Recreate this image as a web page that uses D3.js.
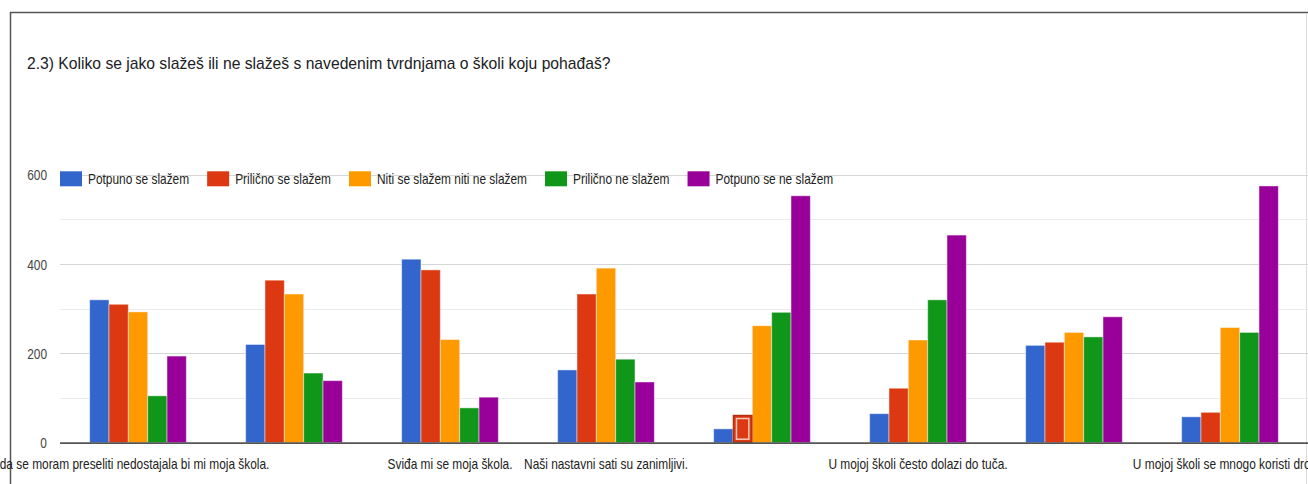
<!DOCTYPE html>
<html>
<head>
<meta charset="utf-8">
<script src="https://cdn.jsdelivr.net/npm/d3@7"></script>
<style>
  html, body { margin: 0; padding: 0; background: #fff; }
  svg { display: block; }
</style>
</head>
<body>
<svg id="chart" width="1308" height="484"></svg>
<script>
// ---- data ----
const title = "2.3) Koliko se jako slažeš ili ne slažeš s navedenim tvrdnjama o školi koju pohađaš?";
const categories = [
  "Kada se moram preseliti nedostajala bi mi moja škola.",
  "Tvrdnja 2",
  "Sviđa mi se moja škola.",
  "Naši nastavni sati su zanimljivi.",
  "Tvrdnja 5",
  "U mojoj školi često dolazi do tuča.",
  "Tvrdnja 7",
  "U mojoj školi se mnogo koristi droga."
];
const shownLabels = [true, false, true, true, false, true, false, true];
const hiddenPrefix = ["Kad", "", "", "", "", "", "", ""];   // part of a label cut off by the frame
const seriesNames = ["Potpuno se slažem", "Prilično se slažem", "Niti se slažem niti ne slažem", "Prilično ne slažem", "Potpuno se ne slažem"];
const seriesColors = ["#3366cc", "#dc3912", "#ff9900", "#109618", "#990099"];
const potpunoSeSlazem   = [320, 220, 411, 163, 31, 65, 218, 58];
const prilicnoSeSlazem  = [310, 364, 387, 333, 62, 122, 225, 68];
const nitiNiti          = [293, 333, 231, 391, 262, 230, 247, 258];
const prilicnoNeSlazem  = [105, 156, 78, 187, 292, 320, 237, 247];
const potpunoSeNeSlazem = [194, 139, 102, 136, 553, 465, 282, 575];
const seriesValues = [potpunoSeSlazem, prilicnoSeSlazem, nitiNiti, prilicnoNeSlazem, potpunoSeNeSlazem];
const majorTicks = [0, 200, 400, 600];
const minorTicks = [100, 300, 500];
const highlighted = { category: 4, series: 1 };

// ---- layout ----
const W = 1308, H = 484;
const plotLeft = 60, plotRight = 1308, plotTop = 174.8, plotBottom = 442.7;
const SX = 0.85;           // horizontal compression of chart text
const FONT = "'Liberation Sans', Arial, sans-serif";

const svg = d3.select("#chart");
svg.append("rect").attr("width", W).attr("height", H).attr("fill", "#fff");

function txt(g, s, x, y, opts) {
  opts = opts || {};
  return g.append("text")
    .attr("transform", `translate(${x},${y}) scale(${opts.sx || SX},1)`)
    .attr("text-anchor", opts.anchor || "start")
    .attr("font-family", FONT)
    .attr("font-size", opts.size || 14)
    .attr("fill", opts.fill || "#222")
    .text(s);
}
function textWidth(s, size, sx) {
  const t = svg.append("text").attr("font-family", FONT).attr("font-size", size).text(s);
  const w = t.node().getComputedTextLength() * sx;
  t.remove();
  return w;
}

// card frame
svg.append("line").attr("x1", 10).attr("x2", W).attr("y1", 12.5).attr("y2", 12.5)
  .attr("stroke", "#555").attr("stroke-width", 1.5);
svg.append("line").attr("x1", 10.5).attr("x2", 10.5).attr("y1", 12).attr("y2", H)
  .attr("stroke", "#555").attr("stroke-width", 1.5);
svg.append("line").attr("x1", 1306.5).attr("x2", 1306.5).attr("y1", 13).attr("y2", H)
  .attr("stroke", "#ddd").attr("stroke-width", 1);

// title
txt(svg, title, 27, 69, { size: 16, sx: 0.98, fill: "#202124" });

// scales
const x0 = d3.scaleBand().domain(d3.range(categories.length))
  .range([plotLeft, plotRight]).paddingInner(0.38).paddingOuter(0.19);
const x1 = d3.scaleBand().domain(d3.range(seriesNames.length))
  .range([0, x0.bandwidth()]).padding(0);
const y = d3.scaleLinear().domain([0, 600]).range([plotBottom, plotTop]);

// gridlines
const grid = svg.append("g");
grid.selectAll("line.minor").data(minorTicks).join("line")
  .attr("x1", plotLeft).attr("x2", plotRight)
  .attr("y1", d => Math.round(y(d)) + 0.5).attr("y2", d => Math.round(y(d)) + 0.5)
  .attr("stroke", "#ebebeb").attr("stroke-width", 1.2);
grid.selectAll("line.major").data(majorTicks.filter(d => d > 0)).join("line")
  .attr("x1", plotLeft).attr("x2", plotRight)
  .attr("y1", d => Math.round(y(d)) + 0.5).attr("y2", d => Math.round(y(d)) + 0.5)
  .attr("stroke", "#d6d6d6").attr("stroke-width", 1.2);

// y axis labels
const yAxis = d3.axisLeft(y).tickValues(majorTicks).tickSize(0).tickPadding(0);
const yg = svg.append("g").attr("transform", `translate(47,0)`).call(yAxis);
yg.select(".domain").remove();
yg.selectAll("text")
  .attr("font-family", FONT).attr("font-size", 14).attr("fill", "#444")
  .attr("transform", `scale(${SX},1)`)
  .attr("x", 0).attr("dy", "0.36em");

// bars
const groups = svg.append("g").selectAll("g").data(categories).join("g")
  .attr("transform", (d, i) => `translate(${x0(i)},0)`);
groups.selectAll("rect").data((d, i) => seriesValues.map((vals, s) => ({ s, v: vals[i], c: i })))
  .join("rect")
  .attr("x", d => x1(d.s))
  .attr("y", d => y(d.v))
  .attr("width", x1.bandwidth())
  .attr("height", d => y(0) - y(d.v))
  .attr("fill", d => seriesColors[d.s])
  .attr("stroke", "rgba(255,255,255,0.45)")
  .attr("stroke-width", 1);

// highlighted bar (hover state)
{
  const hv = seriesValues[highlighted.series][highlighted.category];
  const hx = x0(highlighted.category) + x1(highlighted.series);
  const hw = x1.bandwidth();
  svg.append("rect").attr("x", hx + 0.5).attr("y", y(hv) + 0.5)
    .attr("width", hw - 1).attr("height", y(0) - y(hv) - 1)
    .attr("fill", "none").attr("stroke", "#b3300f").attr("stroke-width", 1.5);
  svg.append("rect").attr("x", hx + 3.5).attr("y", y(hv) + 3.5)
    .attr("width", hw - 7).attr("height", y(0) - y(hv) - 7)
    .attr("fill", "none").attr("stroke", "#f6c8bb").attr("stroke-width", 1.5);
}

// baseline
svg.append("line").attr("x1", plotLeft).attr("x2", plotRight)
  .attr("y1", y(0) + 0.5).attr("y2", y(0) + 0.5)
  .attr("stroke", "#555").attr("stroke-width", 1.8);

// category labels (visible part centred under its group)
const lab = svg.append("g");
categories.forEach((c, i) => {
  if (!shownLabels[i]) return;
  const cx = x0(i) + x0.bandwidth() / 2;
  const pre = hiddenPrefix[i];
  if (pre) {
    const pw = textWidth(pre, 14, SX);
    const vw = textWidth(c.slice(pre.length), 14, SX);
    txt(lab, c, cx - vw / 2 - pw, 469, { anchor: "start", fill: "#222" });
  } else {
    txt(lab, c, cx, 469, { anchor: "middle", fill: "#222" });
  }
});

// legend
const leg = svg.append("g");
let lx = 60;
const ly = y(600) + 4;
seriesNames.forEach((n, s) => {
  leg.append("rect").attr("x", lx).attr("y", ly - 7.5).attr("width", 22).attr("height", 15)
    .attr("fill", seriesColors[s]);
  const t = txt(leg, n, lx + 28, ly + 5, { fill: "#222" });
  const w = t.node().getComputedTextLength() * SX;
  lx += 28 + w + 18;
});
</script>
</body>
</html>
